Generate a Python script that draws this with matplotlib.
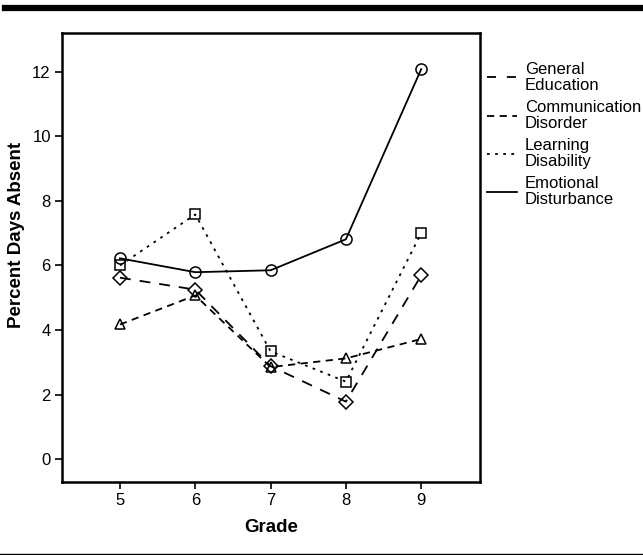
import matplotlib
matplotlib.use("Agg")
import matplotlib.pyplot as plt
from matplotlib.lines import Line2D

plt.rcParams['font.family'] = ['Liberation Sans', 'DejaVu Sans']

grades = [5, 6, 7, 8, 9]
general_education = [5.62, 5.25, 2.88, 1.78, 5.69]
communication_disorder = [4.17, 5.07, 2.85, 3.12, 3.72]
learning_disability = [6.0, 7.58, 3.34, 2.4, 7.0]
emotional_disturbance = [6.22, 5.79, 5.85, 6.81, 12.08]
labels = ["General\nEducation", "Communication\nDisorder", "Learning\nDisability", "Emotional\nDisturbance"]

fig = plt.figure(figsize=(6.43, 5.55), dpi=100)
ax = fig.add_axes([0.0964, 0.1315, 0.650, 0.809])

styles = [
    (general_education, 'D', (0, (6, 5)), 7),
    (communication_disorder, '^', (0, (4, 3)), 7),
    (learning_disability, 's', (0, (1.5, 3)), 7.5),
    (emotional_disturbance, 'o', '-', 8),
]
for vals, m, ls, ms in styles:
    ax.plot(grades, vals, color='black', linestyle=ls, linewidth=1.3,
            marker=m, markersize=ms, markerfacecolor='none',
            markeredgecolor='black', markeredgewidth=1.1)

ax.set_xlim(4.23, 9.78)
ax.set_ylim(-0.71, 13.2)
ax.set_xticks(grades)
ax.set_yticks([0, 2, 4, 6, 8, 10, 12])
for s in ax.spines.values():
    s.set_linewidth(1.8)
ax.tick_params(direction='out', length=5, width=1.2, labelsize=12, pad=3)
ax.set_xlabel('Grade', fontsize=13.5, fontweight='bold', labelpad=8)
ax.set_ylabel('Percent Days Absent', fontsize=13.5, fontweight='bold')
ax.yaxis.set_label_coords(-0.088, 0.55)

handles = [Line2D([], [], color='black', linewidth=1.3, linestyle=ls)
           for _, _, ls, _ in styles]
handles[0].set_linestyle((0, (5, 6)))
leg = fig.legend(handles, labels, loc='upper left', bbox_to_anchor=(0.757, 0.889),
                 frameon=False, fontsize=12, handlelength=1.8, handletextpad=0.5,
                 labelspacing=0.42, borderaxespad=0, borderpad=0)
for t in leg.get_texts():
    t.set_linespacing(1.1)

fig.add_artist(Line2D([5/643, 1], [1 - 8/555, 1 - 8/555], color='black', linewidth=4.5,
                      transform=fig.transFigure))
fig.add_artist(Line2D([0, 1], [1 - 554/555, 1 - 554/555], color='black', linewidth=1.0,
                      transform=fig.transFigure))

fig.savefig('out.png', dpi=100)
